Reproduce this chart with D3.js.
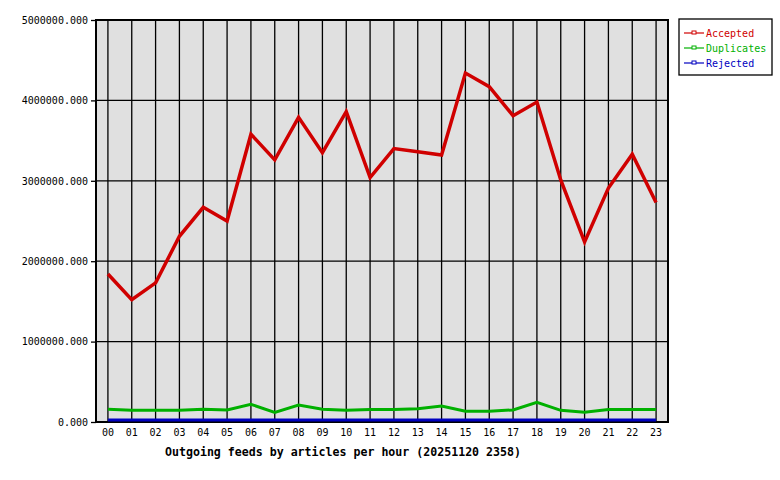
<!DOCTYPE html>
<html>
<head>
<meta charset="utf-8">
<script src="https://cdn.jsdelivr.net/npm/d3@7"></script>
<style>
  body { margin: 0; background: #fff; }
  text { font-family: "DejaVu Sans Mono", monospace; }
</style>
</head>
<body>
<div id="chart"></div>
<script>
// hours of the day
var hours = ["00","01","02","03","04","05","06","07","08","09","10","11",
             "12","13","14","15","16","17","18","19","20","21","22","23"];

// articles per hour
var accepted = [1840000, 1520000, 1730000, 2310000, 2670000, 2500000, 3580000, 3260000,
                3790000, 3350000, 3860000, 3040000, 3400000, 3360000, 3320000, 4340000,
                4170000, 3810000, 3980000, 3010000, 2240000, 2910000, 3330000, 2730000];
var duplicates = [160000, 145000, 145000, 145000, 160000, 150000, 220000, 120000,
                  210000, 160000, 145000, 155000, 155000, 165000, 200000, 135000,
                  135000, 150000, 245000, 145000, 120000, 155000, 155000, 155000];
var rejected = [25000, 25000, 25000, 25000, 25000, 25000, 25000, 25000,
                25000, 25000, 25000, 25000, 25000, 25000, 25000, 25000,
                25000, 25000, 25000, 25000, 25000, 25000, 25000, 25000];

var yTicks = [0, 1000000, 2000000, 3000000, 4000000, 5000000];

var series = [
  { name: "Accepted", values: accepted, color: "#d00000", width: 3.5 },
  { name: "Duplicates", values: duplicates, color: "#00b000", width: 3 },
  { name: "Rejected", values: rejected, color: "#0000c0", width: 3 }
];

var margin = { top: 20, right: 112, bottom: 58, left: 96 },
  width = 780 - margin.left - margin.right,
  height = 480 - margin.top - margin.bottom;

var svg = d3.select("#chart")
  .append("svg")
  .attr("width", 780)
  .attr("height", 480)
  .append("g")
  .attr("transform", "translate(" + margin.left + "," + margin.top + ")");

var x = d3.scaleBand()
  .domain(hours)
  .range([0, width]);

var y = d3.scaleLinear()
  .domain([0, 5000000])
  .range([height, 0]);

// plot background
svg.append("rect")
  .attr("width", width)
  .attr("height", height)
  .attr("fill", "#e0e0e0");

// grid
svg.append("g")
  .selectAll("line")
  .data(hours)
  .enter()
  .append("line")
  .attr("x1", d => x(d) + x.bandwidth() / 2)
  .attr("x2", d => x(d) + x.bandwidth() / 2)
  .attr("y1", 0)
  .attr("y2", height)
  .attr("stroke", "#000")
  .attr("stroke-width", 1.3);

svg.append("g")
  .selectAll("line")
  .data(yTicks)
  .enter()
  .append("line")
  .attr("x1", 0)
  .attr("x2", width)
  .attr("y1", d => y(d))
  .attr("y2", d => y(d))
  .attr("stroke", "#000")
  .attr("stroke-width", 1.3);

// y axis
var yAxis = svg.append("g")
  .call(d3.axisLeft(y).tickValues(yTicks).tickSize(5).tickPadding(3)
    .tickFormat(d => d3.format(".3f")(d)));
yAxis.select(".domain").remove();
yAxis.selectAll("line").attr("stroke-width", 1.3);
yAxis.selectAll("text").attr("font-size", "10px").attr("fill", "#000")
  .style("font-family", "'DejaVu Sans Mono', monospace");

// x axis labels
var xAxis = svg.append("g")
  .attr("transform", "translate(0," + height + ")")
  .call(d3.axisBottom(x).tickSize(0).tickPadding(7));
xAxis.select(".domain").remove();
xAxis.selectAll("text").attr("font-size", "10px").attr("fill", "#000")
  .style("font-family", "'DejaVu Sans Mono', monospace");

// border
svg.append("rect")
  .attr("width", width)
  .attr("height", height)
  .attr("fill", "none")
  .attr("stroke", "#000")
  .attr("stroke-width", 2);

// lines
var line = d3.line()
  .x((d, i) => x(hours[i]) + x.bandwidth() / 2)
  .y(d => y(d));

series.forEach(function (s) {
  svg.append("path")
    .datum(s.values)
    .attr("fill", "none")
    .attr("stroke", s.color)
    .attr("stroke-width", s.width)
    .attr("stroke-linejoin", "miter")
    .attr("d", line);
});

// title
svg.append("text")
  .attr("x", width / 2 - 39)
  .attr("y", height + 34)
  .attr("text-anchor", "middle")
  .attr("font-size", "11.6px")
  .attr("font-weight", "bold")
  .text("Outgoing feeds by articles per hour (20251120 2358)");

// legend
var legend = svg.append("g")
  .attr("transform", "translate(" + (width + 11) + ",-1)");

legend.append("rect")
  .attr("width", 93)
  .attr("height", 56)
  .attr("fill", "#fff")
  .attr("stroke", "#000")
  .attr("stroke-width", 1.3);

var item = legend.selectAll(".item")
  .data(series)
  .enter()
  .append("g")
  .attr("transform", (d, i) => "translate(0," + (14 + i * 15) + ")");

item.append("line")
  .attr("x1", 5)
  .attr("x2", 25)
  .attr("stroke", d => d.color)
  .attr("stroke-width", 1.2);

item.append("rect")
  .attr("x", 13)
  .attr("y", -2)
  .attr("width", 4)
  .attr("height", 3)
  .attr("fill", "#fff")
  .attr("stroke", d => d.color)
  .attr("stroke-width", 1);

item.append("text")
  .attr("x", 27)
  .attr("y", 3.5)
  .attr("font-size", "10px")
  .attr("fill", d => d.color)
  .text(d => d.name);
</script>
</body>
</html>
